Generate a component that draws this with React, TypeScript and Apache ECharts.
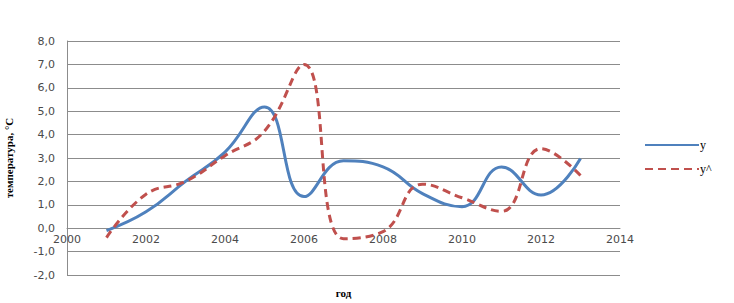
import React, { useEffect, useRef } from "react";
import * as echarts from "echarts";

const years = [2001, 2002, 2003, 2004, 2005, 2006, 2007, 2008, 2009, 2010, 2011, 2012, 2013];
const yValues = [-0.1, 0.7, 2.0, 3.25, 5.18, 1.35, 2.88, 2.62, 1.48, 0.92, 2.62, 1.42, 2.98];
const yHatValues = [-0.4, 1.45, 2.0, 3.1, 4.15, 7.0, -0.45, -0.15, 1.88, 1.3, 0.72, 3.4, 2.25];
const seriesNames = ["y", "y^"];
const xAxisName = "год";
const yAxisName = "температура, °С";

export default function App() {
  const ref = useRef<HTMLDivElement>(null);
  useEffect(() => {
    if (!ref.current) return;
    const chart = echarts.init(ref.current, null, { renderer: "svg" });
    const labelFont = { fontFamily: "DejaVu Sans", fontSize: 11, color: "#4a4a4a" };
    chart.setOption({
      animation: false,
      backgroundColor: "#ffffff",
      grid: { left: 67, right: 114, top: 41, bottom: 28, containLabel: false, outerBoundsMode: "none" },
      legend: {
        orient: "vertical",
        left: 639,
        top: 134,
        itemWidth: 54,
        itemHeight: 10,
        itemGap: 12,
        itemStyle: { color: "rgba(0,0,0,0)", borderWidth: 0, opacity: 0 },
        textStyle: { fontFamily: "Liberation Serif", fontSize: 12, color: "#000", padding: [0, 0, 0, -4] },
        data: seriesNames,
      },
      xAxis: {
        type: "value",
        min: 2000,
        max: 2014,
        interval: 2,
        offset: -47,
        name: xAxisName,
        nameLocation: "middle",
        nameGap: 59,
        nameTextStyle: { fontFamily: "Liberation Serif", fontWeight: "bold", fontSize: 11, color: "#000" },
        axisLine: { onZero: false, lineStyle: { color: "#8c8c8c", width: 1 } },
        axisTick: { show: false },
        axisLabel: { ...labelFont, margin: 6, formatter: (v: number) => String(v) },
        splitLine: { show: false },
      },
      yAxis: {
        type: "value",
        min: -2,
        max: 8,
        interval: 1,
        name: yAxisName,
        nameLocation: "middle",
        nameGap: 53,
        nameTextStyle: { fontFamily: "Liberation Serif", fontWeight: "bold", fontSize: 11, color: "#000" },
        axisLine: { show: true, lineStyle: { color: "#8c8c8c", width: 1 } },
        axisTick: { show: false },
        axisLabel: {
          ...labelFont,
          margin: 12,
          formatter: (v: number) => v.toFixed(1).replace(".", ","),
        },
        splitLine: { show: true, lineStyle: { color: "#8c8c8c", width: 1 } },
      },
      series: [
        {
          name: seriesNames[0],
          type: "line",
          smooth: 0.45,
          symbol: "none",
          data: years.map((x, i) => [x, yValues[i]]),
          lineStyle: { color: "#4F81BD", width: 3 },
          itemStyle: { color: "#4F81BD" },
          z: 3,
        },
        {
          name: seriesNames[1],
          type: "line",
          smooth: 0.45,
          symbol: "none",
          data: years.map((x, i) => [x, yHatValues[i]]),
          lineStyle: { color: "#C0504D", width: 3, type: [8, 5] },
          itemStyle: { color: "#C0504D" },
          z: 4,
        },
      ],
    });
    return () => chart.dispose();
  }, []);
  return (
    <div
      style={{
        position: "fixed",
        left: 0,
        top: 0,
        width: 734,
        height: 303,
        boxSizing: "border-box",
        border: "2px solid #8a8a8a",
        borderRadius: 3,
        background: "#fff",
      }}
    >
      <div ref={ref} style={{ position: "absolute", left: -2, top: -2, width: 734, height: 303 }} />
    </div>
  );
}
